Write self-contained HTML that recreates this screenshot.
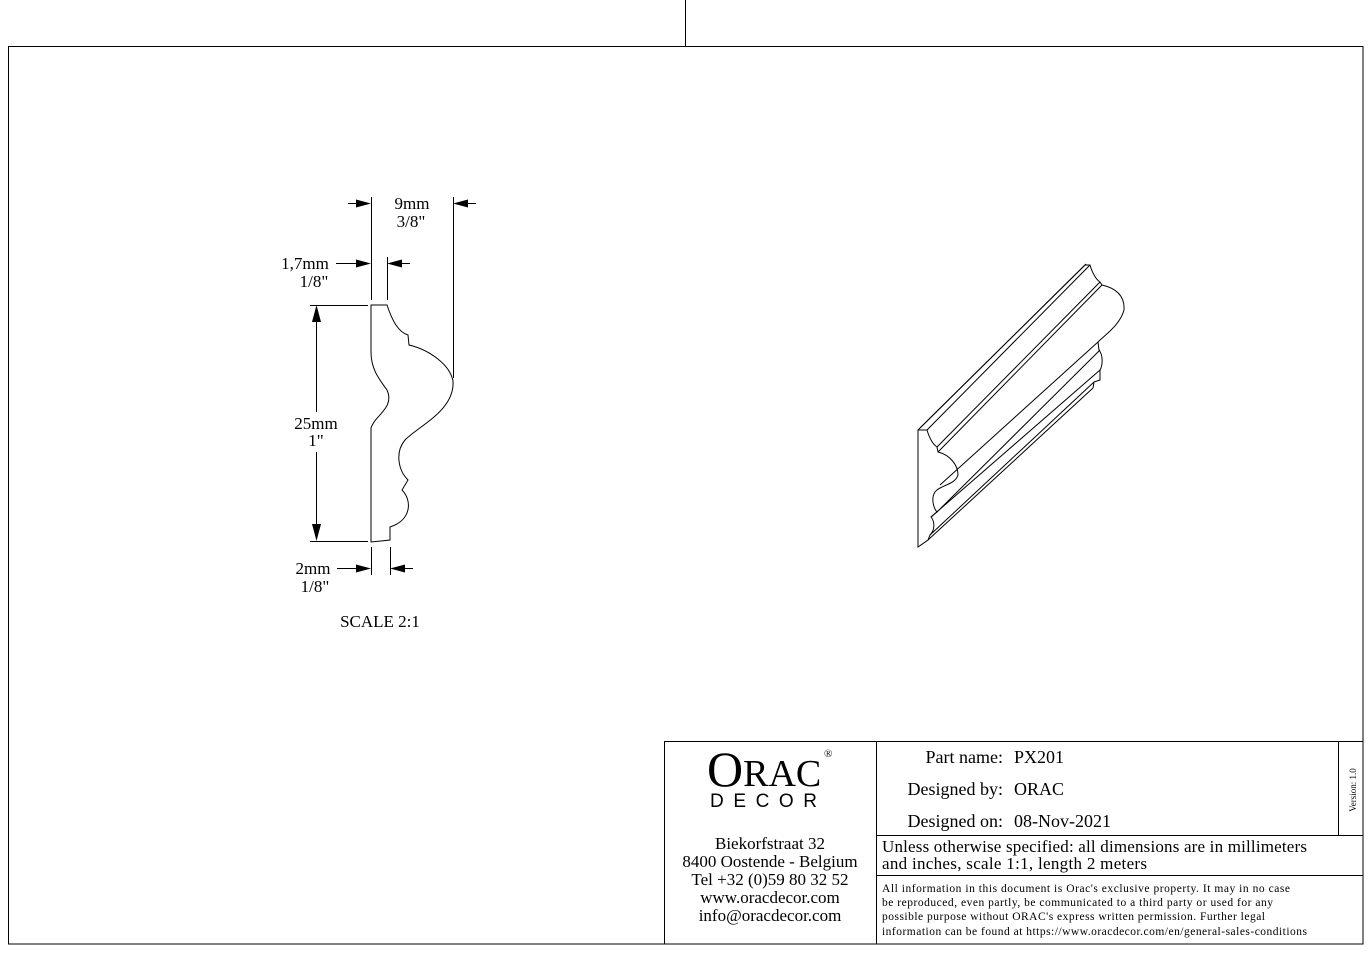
<!DOCTYPE html>
<html><head><style>
html,body{margin:0;padding:0;background:#fff;}
svg{display:block;}
text{font-family:"Liberation Serif",serif;fill:#000;}
</style></head><body>
<svg width="1372" height="957" viewBox="0 0 1372 957" xmlns="http://www.w3.org/2000/svg">
<g fill="none" stroke="#000" stroke-width="1">
<line x1="685.5" y1="0" x2="685.5" y2="46"/>
<rect x="8.5" y="46.5" width="1354.5" height="897.5"/>
<rect x="664.5" y="741.5" width="698.5" height="202.5"/>
<line x1="876.5" y1="741" x2="876.5" y2="944"/>
<line x1="1338.5" y1="741" x2="1338.5" y2="835"/>
<line x1="876" y1="835.5" x2="1363" y2="835.5"/>
<line x1="876" y1="875.5" x2="1363" y2="875.5"/>
</g>
<!-- profile -->
<g fill="none" stroke="#000" stroke-width="1">
<path d="M371,305 L387,305 C392,320 398,332 408,335 L409,345 C430,350 450,365 453,381 C455,410 420,425 405,440 C395,452 398,470 408,480 L402,490 C412,500 412,520 390,527 L390,540 L371,542 L371,428 C375,415 395,408 387,390 C380,380 371,370 371,352 Z"/>
<line x1="371.5" y1="197" x2="371.5" y2="300"/>
<line x1="453.5" y1="197" x2="453.5" y2="378"/>
<line x1="387.5" y1="257" x2="387.5" y2="300"/>
<line x1="310" y1="305.5" x2="368" y2="305.5"/>
<line x1="310" y1="541.5" x2="368" y2="541.5"/>
<line x1="371.5" y1="547" x2="371.5" y2="575"/>
<line x1="390.5" y1="547" x2="390.5" y2="575"/>
<line x1="348" y1="203.5" x2="360" y2="203.5"/>
<line x1="465" y1="203.5" x2="476" y2="203.5"/>
<line x1="336" y1="263.5" x2="356" y2="263.5"/>
<line x1="399" y1="263.5" x2="410" y2="263.5"/>
<line x1="337" y1="568.5" x2="356" y2="568.5"/>
<line x1="402" y1="568.5" x2="413" y2="568.5"/>
<line x1="316.5" y1="320" x2="316.5" y2="412"/>
<line x1="316.5" y1="452" x2="316.5" y2="526"/>
</g>
<g fill="#000">
<path d="M371,203.5 L356,199.5 L356,207.5z"/>
<path d="M453,203.5 L468,199.5 L468,207.5z"/>
<path d="M371,263.5 L356,259.5 L356,267.5z"/>
<path d="M387,263.5 L402,259.5 L402,267.5z"/>
<path d="M371,568.5 L356,564.5 L356,572.5z"/>
<path d="M390,568.5 L405,564.5 L405,572.5z"/>
<path d="M316.5,305 L312,322 L321,322z"/>
<path d="M316.5,541 L312,524 L321,524z"/>
</g>
<g font-size="17" text-anchor="middle">
<text x="412" y="209">9mm</text><text x="411" y="227">3/8"</text>
<text x="305" y="269">1,7mm</text><text x="314" y="287">1/8"</text>
<text x="316" y="429">25mm</text><text x="316" y="446">1"</text>
<text x="313" y="574">2mm</text><text x="315" y="592">1/8"</text>
<text x="380" y="627">SCALE  2:1</text>
</g>
<!-- 3D view -->
<g fill="none" stroke="#000" stroke-width="1">
<path d="M918,430 L927,430 C930,440 934,445 937,447 L938,452 C950,455 958,465 958,475 C955,485 940,485 935,492 C930,500 935,510 937,512 L931,517 C935,522 935,530 930,535 L928,540 L918,547 Z"/>
<path d="M918,430 L1085,265 L1090,265 C1093,275 1097,280 1100,282 L1102,285 C1115,288 1125,295 1124,310 C1120,325 1105,335 1098,342 L1099,350 C1103,355 1103,365 1100,370 L1100,380 L1094,382 L1093,388"/>
<line x1="927" y1="430" x2="1090" y2="265"/>
<line x1="937" y1="447" x2="1100" y2="282"/>
<line x1="938" y1="452" x2="1102" y2="285"/>
<line x1="940" y1="485" x2="1098" y2="342"/>
<line x1="937" y1="512" x2="1100" y2="350"/>
<line x1="931" y1="517" x2="1100" y2="370"/>
<line x1="930" y1="535" x2="1094" y2="382"/>
<line x1="928" y1="540" x2="1093" y2="388"/>
<line x1="920" y1="428" x2="1086" y2="264"/>
</g>
<!-- title block -->
<text x="707" y="786" font-size="50">O<tspan font-size="38">RAC</tspan></text>
<text x="824" y="757" font-size="11">®</text>
<text x="710" y="807" font-size="19" textLength="118" letter-spacing="11" style="font-family:'Liberation Sans',sans-serif">DECOR</text>
<g font-size="17" text-anchor="middle">
<text x="770" y="849">Biekorfstraat 32</text>
<text x="770" y="867">8400 Oostende - Belgium</text>
<text x="770" y="885">Tel   +32 (0)59 80 32 52</text>
<text x="770" y="903">www.oracdecor.com</text>
<text x="770" y="921">info@oracdecor.com</text>
</g>
<g font-size="18">
<text x="1003" y="763" text-anchor="end">Part name:</text><text x="1014" y="763">PX201</text>
<text x="1003" y="795" text-anchor="end">Designed by:</text><text x="1014" y="795">ORAC</text>
<text x="1003" y="827" text-anchor="end">Designed on:</text><text x="1014" y="827">08-Nov-2021</text>
</g>
<g font-size="17">
<text x="882" y="852" textLength="425">Unless otherwise specified: all dimensions are in millimeters</text>
<text x="882" y="869" textLength="265">and inches, scale 1:1, length 2 meters</text>
</g>
<g font-size="11.5">
<text x="882" y="892" textLength="408">All information in this document is Orac's exclusive property.  It may in no case</text>
<text x="882" y="906" textLength="391">be reproduced, even partly, be communicated to a third party or used for any</text>
<text x="882" y="920" textLength="383">possible purpose without ORAC's express written permission. Further legal</text>
<text x="882" y="935" textLength="425">information can be found at https://www.oracdecor.com/en/general-sales-conditions</text>
</g>
<text x="1356" y="790" font-size="9" text-anchor="middle" transform="rotate(-90 1356 790)">Version: 1.0</text>
</svg>
</body></html>
